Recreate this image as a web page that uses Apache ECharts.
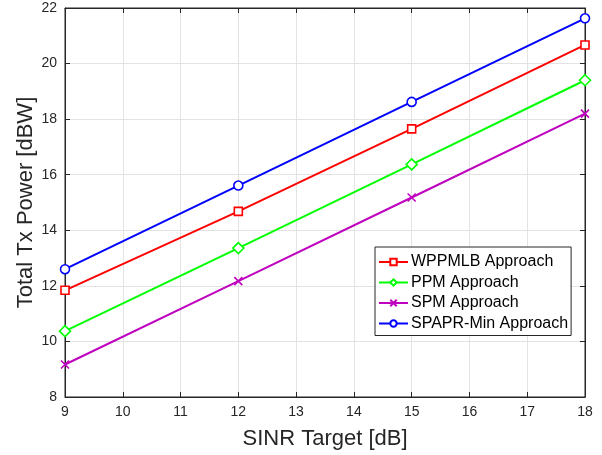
<!DOCTYPE html>
<html><head><meta charset="utf-8">
<script src="https://cdn.jsdelivr.net/npm/echarts@6/dist/echarts.min.js"></script>
<style>html,body{margin:0;padding:0;background:#fff}#c{width:602px;height:455px}</style>
</head><body><div id="c"></div>
<script>
const categories = [9, 12, 15, 18];
const wppmlb = [11.84, 14.68, 17.65, 20.67];
const ppm = [10.37, 13.36, 16.37, 19.4];
const spm = [9.17, 12.17, 15.18, 18.2];
const spapr = [12.6, 15.61, 18.62, 21.63];
const xTicks = [9, 10, 11, 12, 13, 14, 15, 16, 17, 18];
const yTicks = [8, 10, 12, 14, 16, 18, 20, 22];

const font = 'Liberation Sans, Arial, sans-serif';
function pts(arr){ return categories.map((x,i)=>[x, arr[i]]); }
function mk(name, data, color, symbol, size){
  return {
    name, type:'line', data: pts(data), symbol, symbolSize:size,
    lineStyle:{color, width:2}, color,
    itemStyle:{color: symbol.startsWith('path') ? color : '#fff', borderColor:color, borderWidth:1.6},
    emphasis:{disabled:true}, z:3
  };
}
const chart = echarts.init(document.getElementById('c'));
const axisCommon = {
  axisLine:{show:true, lineStyle:{color:'#262626', width:1}},
  axisTick:{show:true, inside:true, length:5, lineStyle:{color:'#262626'}},
};
chart.setOption({
  animation:false,
  grid:{left:65, right:17, top:8, bottom:57, show:true, borderColor:'#262626', borderWidth:1},
  legend:{
    orient:'vertical', left:375, top:247,
    backgroundColor:'#fff', borderColor:'#262626', borderWidth:1,
    padding:[6,3,3,3], itemGap:2.5, itemWidth:29, itemHeight:8,
    textStyle:{fontFamily:font, fontSize:16, lineHeight:18, color:'#000', padding:[0,0,0,-2]},
    data:['WPPMLB Approach','PPM Approach','SPM Approach','SPAPR-Min Approach']
  },
  xAxis:[{
    type:'value', min:9, max:18, interval:1,
    name:'SINR Target [dB]', nameLocation:'middle', nameGap:31, nameMoveOverlap:false,
    nameTextStyle:{fontFamily:font, fontSize:22, color:'#262626'},
    axisLabel:{fontFamily:font, fontSize:14, color:'#262626', margin:8},
    splitLine:{show:true, lineStyle:{color:'#e3e3e3'}},
    ...axisCommon
  },{
    type:'value', min:9, max:18, interval:1, position:'top',
    axisLabel:{show:false}, splitLine:{show:false}, ...axisCommon
  }],
  yAxis:[{
    type:'value', min:8, max:22, interval:2,
    name:'Total Tx Power [dBW]', nameLocation:'middle', nameGap:28, nameMoveOverlap:false,
    nameTextStyle:{fontFamily:font, fontSize:22, color:'#262626'},
    axisLabel:{fontFamily:font, fontSize:14, color:'#262626', margin:8},
    splitLine:{show:true, lineStyle:{color:'#e3e3e3'}},
    ...axisCommon
  },{
    type:'value', min:8, max:22, interval:2, position:'right',
    axisLabel:{show:false}, splitLine:{show:false}, ...axisCommon
  }],
  series:[
    mk('WPPMLB Approach', wppmlb, '#ff0000', 'rect', 8),
    mk('PPM Approach', ppm, '#00ff00', 'diamond', 11),
    mk('SPM Approach', spm, '#bf00bf', 'path://M0,0L10,10M10,0L0,10', 8),
    mk('SPAPR-Min Approach', spapr, '#0000ff', 'circle', 9)
  ]
});
</script></body></html>
